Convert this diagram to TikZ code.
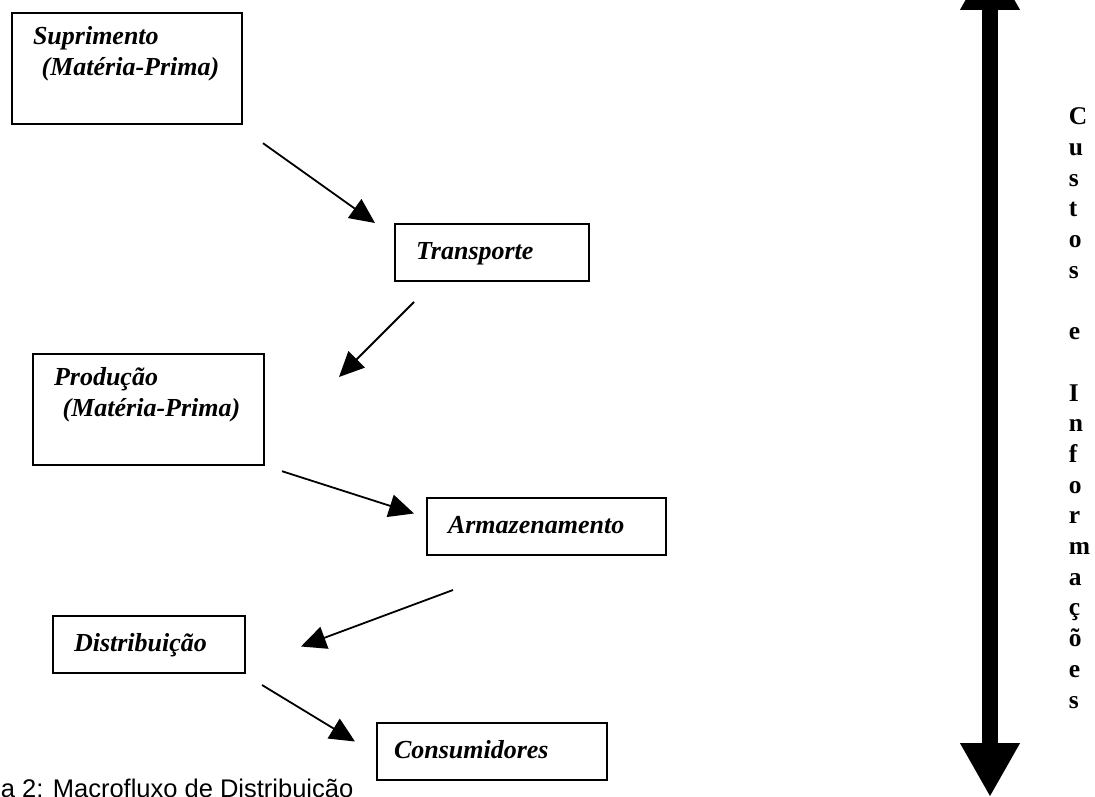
\documentclass[tikz,border=0pt]{standalone}
\usepackage{fontspec}
\setmainfont{Liberation Serif}
\newfontfamily\capfont{Liberation Sans}
\usetikzlibrary{arrows.meta,calc}

\begin{document}
\begin{tikzpicture}[
    x=0.5pt, y=-0.5pt,
    >={Triangle[length=12.5pt,width=11.5pt]},
    line width=0.9pt,
    stage/.style    = {draw=black, line width=1pt, anchor=north west,
                       align=left, inner xsep=10.5pt, inner ysep=0pt,
                       text width=#1-21pt, minimum height=28.5pt,
                       text height=0.66em, text depth=0pt,
                       font=\fontsize{13}{15.5}\selectfont\bfseries\itshape},
    tallstage/.style= {stage=#1, inner ysep=9pt, text depth=31pt},
    flow/.style     = {draw=black, line width=0.9pt, ->},
    costarrow/.style= {draw=black, line width=8pt,
                       {Triangle[length=27pt,width=28pt]}-{Triangle[length=27pt,width=28pt]}},
    vlbl/.style     = {anchor=north west, align=left, inner sep=0pt,
                       font=\fontsize{12.75}{15.35}\selectfont\bfseries},
    caption/.style  = {anchor=base west, inner sep=0pt,
                       font=\capfont\fontsize{12.75}{15.5}\selectfont},
  ]

  \useasboundingbox (0,0) rectangle (1095,796);
  \clip (0,0) rectangle (1095,796);

  % ---- stages of the flow (top left to bottom) ----
  \node[tallstage=115pt] (sup) at (11,12)
    {Suprimento\\\ (Matéria-Prima)};
  \node[stage=97pt] (tra) at (394,223) {Transporte};
  \node[tallstage=115.5pt] (pro) at (32,353)
    {Produção\\\ (Matéria-Prima)};
  \node[stage=119.5pt] (arm) at (426,497) {Armazenamento};
  \node[stage=96pt] (dis) at (52,615) {Distribuição};
  \node[stage=115pt, inner xsep=8.5pt, text width=98pt] (con) at (376,722)
    {Consumidores};

  % ---- arrows between the stages ----
  \draw[flow] ($(sup.south east)+(20,18)$) -- ($(tra.north west)+(-19,0)$);
  \draw[flow] ($(tra.south west)+(20,20)$) -- ($(pro.north east)+(74,24)$);
  \draw[flow] ($(pro.south east)+(17,5)$)  -- ($(arm.west)+(-12,-13)$);
  \draw[flow] ($(arm.south west)+(27,34)$) -- ($(dis.east)+(55,2)$);
  \draw[flow] ($(dis.south east)+(16,11)$) -- ($(con.west)+(-21,-10)$);

  % ---- costs and information: double arrow on the right ----
  \coordinate (costtop) at (990,-44);
  \coordinate (costbot) at (990,797);
  \draw[costarrow] (costtop) -- (costbot);
  \node[vlbl] (custos) at (1068,107)
    {C\\u\\s\\t\\o\\s\\\mbox{}\\e\\\mbox{}\\I\\n\\f\\o\\r\\m\\a\\ç\\õ\\e\\s};

  % ---- caption, cut by the bottom edge ----
  \node[caption] (cap) at (0,797) {a 2: Macrofluxo de Distribuição};

\end{tikzpicture}
\end{document}
